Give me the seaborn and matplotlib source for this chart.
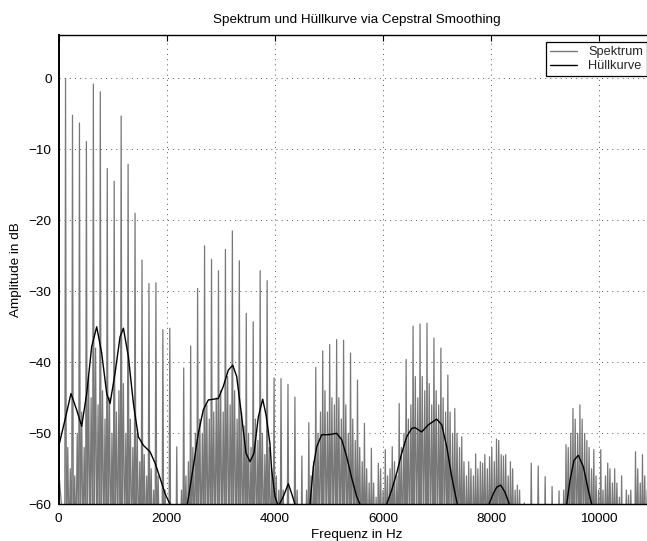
import numpy as np
import pandas as pd
import matplotlib
matplotlib.use("Agg")
import matplotlib.pyplot as plt
import seaborn as sns

# ---------------- data ----------------
F0_HZ = 128.6                      # fundamental (harmonic spacing)
harmonic_no = np.arange(1, 86)     # harmonic numbers 1..85

# peak level of each harmonic (dB)
peak_db = [
    0.0, -5.2, -6.3, -8.9, -0.8, -1.9, -12.7, -14.5, -5.3, -12.1,
    -19.0, -25.6, -28.9, -28.8, -35.4, -35.2, -51.9, -40.8, -37.7, -29.6,
    -23.6, -25.5, -27.1, -24.1, -21.5, -25.7, -33.1, -34.3, -27.1, -28.5,
    -42.2, -42.3, -43.1, -44.9, -53.2, -48.5, -40.7, -38.4, -37.5, -36.8,
    -36.9, -38.7, -42.5, -48.6, -52.1, -54.2, -52.3, -51.9, -45.8, -39.6,
    -34.9, -34.6, -34.5, -36.6, -38.0, -41.8, -46.5, -50.5, -54.0, -52.9,
    -54.2, -53.3, -50.8, -53.2, -54.0, -57.3, -59.8, -54.2, -54.6, -56.1,
    -57.5, -58.1, -51.6, -46.5, -46.0, -51.0, -52.3, -52.3, -54.2, -55.0,
    -56.0, -58.7, -52.6, -53.0, -56.0,
]

# levels of the two noise bumps between harmonic n and n+1 (dB)
between_a_db = [
    -52, -56, -47, -42, -38, -44, -45, -47, -43, -48,
    -50, -53, -55, -56, -58, -60, -62, -56, -52, -48,
    -46, -47, -44, -42, -44, -47, -50, -48, -50, -52,
    -56, -58, -60, -58, -60, -56, -50, -44, -45, -45,
    -46, -48, -52, -55, -57, -55, -56, -54, -52, -48,
    -42, -42, -43, -44, -45, -47, -50, -54, -55, -55,
    -53, -52, -51, -53, -55, -58, -62, -60, -62, -60,
    -62, -60, -52, -48, -48, -52, -56, -58, -55, -57,
    -60, -58, -55, -56, -58,
]
between_b_db = [
    -55, -50, -52, -45, -46, -48, -50, -44, -50, -52,
    -54, -56, -58, -60, -62, -64, -58, -54, -50, -50,
    -48, -45, -47, -46, -48, -49, -52, -51, -53, -55,
    -58, -62, -60, -62, -58, -54, -47, -47, -46, -48,
    -50, -51, -54, -57, -59, -58, -55, -56, -50, -46,
    -45, -44, -46, -46, -47, -50, -52, -56, -56, -54,
    -55, -54, -53, -56, -58, -61, -63, -62, -61, -63,
    -61, -58, -50, -50, -50, -55, -58, -56, -57, -59,
    -58, -60, -57, -58, -60,
]
valley_db = -66.0                  # spectral minima (below the visible range)
start_db = -55.0                   # level at 0 Hz

# cepstrally smoothed envelope
env_hz = [0, 118, 229, 334, 427, 520, 612, 705, 797, 890, 952, 1045, 1137, 1199,
          1291, 1384, 1476, 1569, 1692, 1785, 1877, 1970, 2061, 2220, 2382, 2493,
          2585, 2677, 2770, 2862, 2955, 3047, 3140, 3221, 3295, 3388, 3467, 3541,
          3615, 3695, 3776, 3840, 3911, 3942, 4004, 4065, 4158, 4250, 4312, 4374,
          4510, 4651, 4713, 4775, 4868, 4991, 5145, 5238, 5330, 5423, 5515, 5576,
          5820, 6070, 6163, 6255, 6348, 6440, 6533, 6594, 6718, 6841, 6995, 7088,
          7181, 7273, 7377, 7670, 7963, 8043, 8105, 8179, 8259, 8339, 8870, 9400,
          9462, 9536, 9616, 9708, 9800, 9863, 10400, 11025]
env_db = [-51.9, -48.1, -44.4, -46.7, -49.0, -44.4, -37.8, -35.0, -38.7, -44.4,
          -45.8, -41.5, -36.4, -35.2, -39.2, -45.8, -50.5, -51.7, -52.6, -54.2,
          -56.3, -58.5, -60.0, -70.0, -60.0, -54.7, -50.0, -46.7, -45.3, -45.2,
          -45.1, -43.4, -41.1, -40.4, -42.0, -47.7, -52.8, -54.0, -52.8, -47.7,
          -45.2, -47.5, -51.5, -55.2, -58.9, -60.3, -58.9, -57.1, -58.5, -60.0,
          -70.0, -60.0, -54.7, -51.9, -50.2, -50.2, -50.0, -50.9, -53.3, -56.3,
          -58.9, -60.0, -70.0, -60.0, -58.0, -55.6, -52.8, -50.5, -49.3, -49.2,
          -49.8, -48.8, -48.0, -48.8, -51.9, -56.1, -60.0, -70.0, -60.0, -58.5,
          -57.6, -57.3, -58.3, -60.0, -70.0, -60.0, -56.6, -53.8, -53.1, -54.7,
          -58.0, -60.0, -70.0, -70.0]

x_ticks = [0, 2000, 4000, 6000, 8000, 10000]
y_ticks = [-60, -50, -40, -30, -20, -10, 0]
title_txt = "Spektrum und Hüllkurve via Cepstral Smoothing"
xlabel_txt = "Frequenz in Hz"
ylabel_txt = "Amplitude in dB"
legend_labels = ["Spektrum", "Hüllkurve"]

# ---------------- build the spectrum line ----------------
harm_hz = F0_HZ * harmonic_no
spec_hz, spec_db = [0.0], [start_db]
for f, p, a, b in zip(harm_hz, peak_db, between_a_db, between_b_db):
    spec_hz += [f - F0_HZ * 0.12, f, f + F0_HZ * 0.12, f + F0_HZ * 0.32,
                f + F0_HZ * 0.5, f + F0_HZ * 0.68]
    spec_db += [valley_db, p, valley_db, a, valley_db, b]
spec_df = pd.DataFrame({"hz": spec_hz, "db": spec_db})
env_df = pd.DataFrame({"hz": env_hz, "db": env_db})

# ---------------- styling ----------------
sns.set_theme(style="white")
plt.rcParams["font.family"] = ["Liberation Sans", "DejaVu Sans"]
plt.rcParams["axes.unicode_minus"] = True

W, H = 647, 541
fig = plt.figure(figsize=(W / 100, H / 100), dpi=100)
left, right, top, bottom = 58.6, 654.5, 35.0, 504.3
ax = fig.add_axes([left / W, (H - bottom) / H, (right - left) / W, (bottom - top) / H])

sns.lineplot(data=spec_df, x="hz", y="db", sort=False, estimator=None,
             color="#787878", linewidth=0.9, ax=ax, label=legend_labels[0])
sns.lineplot(data=env_df, x="hz", y="db", sort=False, estimator=None,
             color="black", linewidth=1.0, ax=ax, label=legend_labels[1])

ax.set_xlim(0, 11025)
ax.set_ylim(-60, 6.1)
ax.set_xticks(x_ticks)
ax.set_yticks(y_ticks)
ax.set_xticklabels([str(v) for v in x_ticks])
ax.set_yticklabels([str(v).replace("-", "\u2212") for v in y_ticks])

ax.set_axisbelow(True)
ax.grid(True, color="#444444", linestyle=(0, (1.2, 5)), linewidth=0.6)
for s in ax.spines.values():
    s.set_color("black")
    s.set_linewidth(1.0)
ax.spines["left"].set_linewidth(1.4)

ax.tick_params(direction="in", length=4.5, width=0.8, top=True, right=True,
               labelsize=9.7, colors="black", pad=5)
ax.tick_params(axis="x", pad=6)

ax.set_title(title_txt, fontsize=9.7, pad=9, color="black")
ax.set_xlabel(xlabel_txt, fontsize=9.7, labelpad=3, color="black")
ax.set_ylabel(ylabel_txt, fontsize=9.7, labelpad=5, color="black")

leg = ax.legend(loc="upper right", bbox_to_anchor=(647 / W, 1 - 42.3 / H),
                bbox_transform=fig.transFigure, borderaxespad=0,
                fontsize=9.2, frameon=True, fancybox=False, framealpha=1,
                edgecolor="black", handlelength=2.1, handletextpad=0.9,
                labelspacing=0.15, borderpad=0.3)
leg.get_frame().set_linewidth(0.9)
for line in leg.get_lines():
    line.set_linewidth(1.0)

fig.savefig("out.png", dpi=100)
